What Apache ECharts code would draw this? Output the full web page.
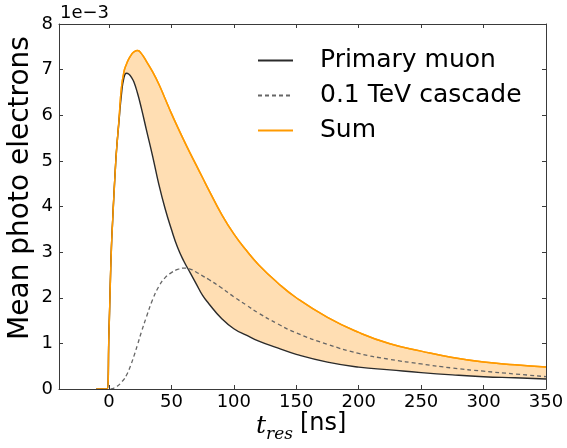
<!DOCTYPE html>
<html>
<head>
<meta charset="utf-8">
<style>
  html, body { margin: 0; padding: 0; background: #fff; }
  #chart { width: 567px; height: 448px; }
</style>
<script src="https://cdn.jsdelivr.net/npm/echarts@6/dist/echarts.min.js"></script>
</head>
<body>
<div id="chart"></div>
<script>
// Residual time grid [ns]
const tres = [-10, -1.5, 0, 1, 2, 3, 4, 5, 6, 8, 10, 12, 14, 16, 18, 20, 23, 26, 30, 35,
  40, 45, 50, 55, 60, 65, 70, 75, 80, 90, 100, 110, 120, 135, 150, 175, 200, 225, 250,
  275, 300, 325, 350];

// Mean photo electrons, in units of 1e-3
const primaryMuon = [0, 0, 1.2, 2.2, 3.1, 3.7, 4.25, 4.75, 5.2, 5.85, 6.45, 6.82, 6.92, 6.9,
  6.83, 6.73, 6.47, 6.15, 5.68, 5.1, 4.48, 3.95, 3.5, 3.1, 2.8, 2.55, 2.3, 2.05, 1.87, 1.55,
  1.32, 1.18, 1.05, 0.9, 0.76, 0.59, 0.48, 0.42, 0.36, 0.31, 0.27, 0.245, 0.22];

const cascade = [0, 0, 0, 0, 0.005, 0.01, 0.02, 0.03, 0.05, 0.09, 0.15, 0.21, 0.3, 0.42,
  0.56, 0.72, 0.98, 1.25, 1.58, 1.96, 2.25, 2.44, 2.55, 2.62, 2.65, 2.63, 2.56, 2.48, 2.4,
  2.22, 2.02, 1.84, 1.66, 1.43, 1.23, 0.98, 0.78, 0.65, 0.55, 0.46, 0.39, 0.33, 0.27];

const total = [0, 0, 1.2, 2.2, 3.1, 3.7, 4.25, 4.75, 5.2, 5.88, 6.6, 6.95, 7.12, 7.24, 7.33,
  7.39, 7.42, 7.35, 7.18, 6.95, 6.68, 6.36, 6.04, 5.74, 5.45, 5.17, 4.9, 4.63, 4.36, 3.84,
  3.4, 3.04, 2.72, 2.33, 2.0, 1.57, 1.24, 0.99, 0.83, 0.69, 0.59, 0.53, 0.48];

const xTicks = [0, 50, 100, 150, 200, 250, 300, 350];
const yTicks = [0, 1, 2, 3, 4, 5, 6, 7, 8];

const seriesNames = ['Primary muon', '0.1 TeV cascade', 'Sum'];

const FONT = 'DejaVu Sans';
const FRAME = '#3a3a3a';
const BAND = '#ffdeb3';

const pairs = (ys) => tres.map((t, i) => [t, ys[i]]);

const chart = echarts.init(document.getElementById('chart'), null, { renderer: 'canvas' });

const frameAxis = {
  z: 10,
  axisLine: { show: true, onZero: false, lineStyle: { color: FRAME, width: 1 } },
  splitLine: { show: false }
};

const smooth = true;

chart.setOption({
  animation: false,
  backgroundColor: '#ffffff',
  grid: { left: 59, right: 21, top: 24, bottom: 59, containLabel: false, outerBoundsMode: 'none' },
  xAxis: [
    Object.assign({
      type: 'value', min: -40, max: 350, position: 'bottom',
      axisTick: { inside: true, length: 4, customValues: xTicks, lineStyle: { color: FRAME } },
      axisLabel: { customValues: xTicks, margin: 4, color: '#000', fontFamily: FONT, fontSize: 18 }
    }, frameAxis),
    Object.assign({
      type: 'value', min: -40, max: 350, position: 'top',
      axisTick: { inside: true, length: 4, customValues: xTicks, lineStyle: { color: FRAME } },
      axisLabel: { show: false }
    }, frameAxis)
  ],
  yAxis: [
    Object.assign({
      type: 'value', min: 0, max: 8, interval: 1, position: 'left',
      axisTick: { inside: true, length: 4, lineStyle: { color: FRAME } },
      axisLabel: { margin: 6, color: '#000', fontFamily: FONT, fontSize: 18,
        formatter: (v) => (yTicks.includes(v) ? String(v) : '') }
    }, frameAxis),
    Object.assign({
      type: 'value', min: 0, max: 8, interval: 1, position: 'right',
      axisTick: { inside: true, length: 4, lineStyle: { color: FRAME } },
      axisLabel: { show: false }
    }, frameAxis)
  ],
  legend: {
    orient: 'vertical', left: 257, top: 48, padding: 0,
    itemWidth: 35, itemHeight: 10, itemGap: 10,
    data: seriesNames,
    itemStyle: { opacity: 0, borderWidth: 0 },
    textStyle: { color: '#000', fontFamily: FONT, fontSize: 25, padding: [0, 0, 0, 22] }
  },
  graphic: [
    { type: 'text', x: 21, y: 188, rotation: Math.PI / 2,
      style: { text: 'Mean photo electrons', fill: '#000', font: '28px "DejaVu Sans"',
        align: 'center', verticalAlign: 'middle' } },
    { type: 'text', left: 60, top: 4,
      style: { text: '1e\u22123', fill: '#000', font: '18px "DejaVu Sans"' } },
    { type: 'text', left: 256, top: 414,
      style: { text: 't', fill: '#000', font: 'italic 25px "DejaVu Serif"' } },
    { type: 'text', left: 266, top: 426,
      style: { text: 'res', fill: '#000', font: 'italic 17px "DejaVu Serif"' } },
    { type: 'text', left: 300, top: 412,
      style: { text: '[ns]', fill: '#000', font: '24px "DejaVu Sans"' } }
  ],
  series: [
    {
      // summed curve, shaded down to the axis
      name: seriesNames[2], type: 'line', data: pairs(total), showSymbol: false, symbol: 'none',
      smooth: smooth, z: 2,
      areaStyle: { color: BAND, opacity: 1 },
      lineStyle: { color: '#ff9a00', width: 1.5 }, itemStyle: { color: '#ff9a00' }
    },
    {
      // muon curve, blanking the shade below it so only the band remains
      name: seriesNames[0], type: 'line', data: pairs(primaryMuon), showSymbol: false, symbol: 'none',
      smooth: smooth, z: 3,
      areaStyle: { color: '#ffffff', opacity: 1 },
      lineStyle: { color: '#2b2b2b', width: 1.4 }, itemStyle: { color: '#2b2b2b' }
    },
    {
      name: seriesNames[1], type: 'line', data: pairs(cascade), showSymbol: false, symbol: 'none',
      smooth: smooth, z: 4,
      lineStyle: { color: '#666666', width: 1.3, type: [4, 3] }, itemStyle: { color: '#666666' }
    },
    {
      // summed curve redrawn on top where it meets the muon rise
      name: seriesNames[2], type: 'line', data: pairs(total), showSymbol: false, symbol: 'none',
      smooth: smooth, z: 5,
      lineStyle: { color: '#ff9a00', width: 1.5 }, itemStyle: { color: '#ff9a00' }
    }
  ]
});
</script>
</body>
</html>
